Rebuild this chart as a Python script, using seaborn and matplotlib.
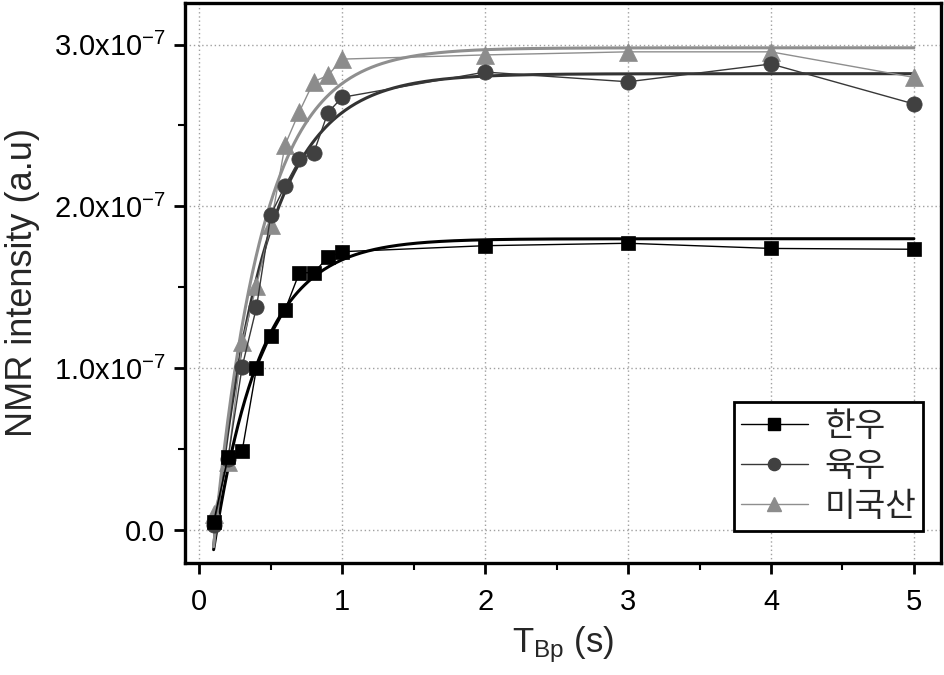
import numpy as np
import pandas as pd
import matplotlib
matplotlib.use("Agg")
import matplotlib.pyplot as plt
import seaborn as sns
from matplotlib.ticker import FixedLocator, FuncFormatter
from matplotlib.lines import Line2D

# ---- data (values in units of 1e-7) ----
t_bp = [0.1, 0.2, 0.3, 0.4, 0.5, 0.6, 0.7, 0.8, 0.9, 1.0, 2.0, 3.0, 4.0, 5.0]
hanwoo = [0.05, 0.45, 0.49, 1.00, 1.20, 1.36, 1.59, 1.59, 1.685, 1.72, 1.757, 1.772, 1.74, 1.735]
yukwoo = [0.03, 0.44, 1.01, 1.376, 1.947, 2.128, 2.29, 2.33, 2.58, 2.674, 2.83, 2.77, 2.88, 2.633]
usa = [0.10, 0.42, 1.16, 1.51, 1.885, 2.38, 2.585, 2.77, 2.81, 2.91, 2.936, 2.955, 2.955, 2.797]
series_names = ["한우", "육우", "미국산"]

# fitted recovery curves y = A * (1 - B * exp(-t / T1))
fit_A = [1.80, 2.82, 2.98]
fit_B = [1.44, 1.367, 1.387]
fit_T1 = [0.334, 0.36, 0.341]

SCALE = 1e-7

sns.set_style("white")
plt.rcParams["font.family"] = ["Liberation Sans", "Noto Sans CJK KR", "DejaVu Sans"]
plt.rcParams["mathtext.fontset"] = "custom"
plt.rcParams["mathtext.rm"] = "Liberation Sans"

fig = plt.figure(figsize=(9.45, 6.75), dpi=100)
ax = fig.add_axes([0.1958, 0.1659, 0.800, 0.8297])

rows = []
for name, vals in zip(series_names, [hanwoo, yukwoo, usa]):
    for t, v in zip(t_bp, vals):
        rows.append({"t": t, "v": v * SCALE, "series": name})
df = pd.DataFrame(rows)

fit_rows = []
tt = np.linspace(0.1, 5.0, 400)
for name, A, B, T1 in zip(series_names, fit_A, fit_B, fit_T1):
    yy = A * (1 - B * np.exp(-tt / T1))
    for t, v in zip(tt, yy):
        fit_rows.append({"t": t, "v": v * SCALE, "series": name})
fit_df = pd.DataFrame(fit_rows)

markers = ["s", "o", "^"]
msizes = [10, 11, 12.5]
fcolors = ["#000000", "#404040", "#8c8c8c"]
line_colors = ["#000000", "#383838", "#8e8e8e"]
fit_colors = ["#000000", "#333333", "#8f8f8f"]

for i, name in enumerate(series_names):
    sub_fit = fit_df[fit_df.series == name]
    sns.lineplot(data=sub_fit, x="t", y="v", ax=ax, color=fit_colors[i],
                 linewidth=2.2, sort=False, estimator=None, zorder=3 + i * 0.1)

handles = []
for i, name in enumerate(series_names):
    sub = df[df.series == name]
    sns.lineplot(data=sub, x="t", y="v", ax=ax, color=line_colors[i],
                 linewidth=1.0, marker=markers[i], markersize=msizes[i],
                 markerfacecolor=fcolors[i], markeredgecolor=fcolors[i],
                 markeredgewidth=0.5, sort=False, estimator=None,
                 zorder=6 - i * 0.5)
    handles.append(Line2D([], [], color=line_colors[i], linewidth=1.0,
                          marker=markers[i], markersize=msizes[i] * 0.8,
                          markerfacecolor=fcolors[i], markeredgecolor=fcolors[i]))

ax.set_xlim(-0.1, 5.19)
ax.set_ylim(-0.204e-7, 3.257e-7)

ax.xaxis.set_major_locator(FixedLocator([0, 1, 2, 3, 4, 5]))
ax.xaxis.set_minor_locator(FixedLocator([0.5, 1.5, 2.5, 3.5, 4.5]))
ax.yaxis.set_major_locator(FixedLocator([0, 1e-7, 2e-7, 3e-7]))
ax.yaxis.set_minor_locator(FixedLocator([0.5e-7, 1.5e-7, 2.5e-7]))


def yfmt(v, pos):
    m = v / SCALE
    if abs(m) < 1e-9:
        return "0.0"
    return r"$\mathregular{%.1fx10^{-7}}$" % m


ax.yaxis.set_major_formatter(FuncFormatter(yfmt))
ax.xaxis.set_major_formatter(FuncFormatter(lambda v, p: "%d" % round(v)))

ax.tick_params(axis="both", which="major", direction="out", length=8,
               width=2, labelsize=21, colors="black", pad=6)
ax.tick_params(axis="x", which="major", pad=10)
ax.tick_params(axis="both", which="minor", direction="out", length=5,
               width=1.5, colors="black")
ax.tick_params(axis="x", which="both", bottom=True, top=False)
ax.tick_params(axis="y", which="both", left=True, right=False)

ax.grid(True, which="major", linestyle=(0, (1, 2)), color="#a0a0a0", linewidth=1.0)
ax.set_axisbelow(True)

for sp in ax.spines.values():
    sp.set_visible(True)
    sp.set_color("black")
    sp.set_linewidth(2.4)

ax.set_xlabel(r"$\mathregular{T_{Bp}}$ (s)", fontsize=25, labelpad=6)
ax.set_ylabel("NMR intensity (a.u)", fontsize=26, labelpad=10)

leg = ax.legend(handles, series_names, loc="lower right",
                bbox_to_anchor=(0.976, 0.058),
                prop={"family": ["Noto Sans CJK KR", "DejaVu Sans"], "size": 24},
                frameon=True, fancybox=False, shadow=False, handlelength=2.0,
                handletextpad=0.5, borderpad=0.2, labelspacing=0.15,
                borderaxespad=0.0)
leg.get_frame().set_edgecolor("black")
leg.get_frame().set_linewidth(2.0)
leg.get_frame().set_alpha(1.0)

fig.savefig("out.png", dpi=100)
